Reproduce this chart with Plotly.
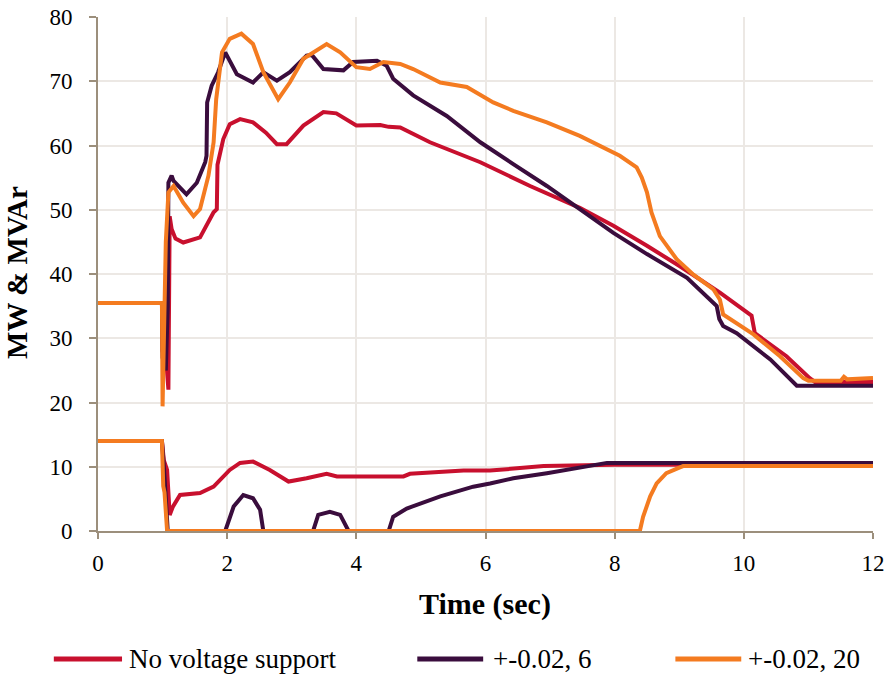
import plotly.graph_objects as go

# Active power (MW) traces
t_mw_none = [0, 0.99, 1.0, 1.06, 1.09, 1.10, 1.11, 1.14, 1.2, 1.32, 1.58, 1.79, 1.84, 1.85, 1.94, 2.04,
             2.2, 2.4, 2.6, 2.77, 2.92, 3.18, 3.49, 3.69, 4.0, 4.37, 4.5, 4.68, 5.14, 5.92, 6.69, 7.46,
             7.98, 8.5, 9.01, 9.63, 10.04, 10.12, 10.17, 10.66, 11.02, 11.1, 12]
mw_none = [35.5, 35.5, 28, 26, 22, 30, 49, 47, 45.5, 44.9, 45.7, 49.6, 50.1, 57, 61, 63.3,
           64.1, 63.6, 62, 60.2, 60.2, 63.1, 65.2, 65, 63.1, 63.2, 62.9, 62.8, 60.5, 57.4, 53.7, 50.3,
           47.5, 44.4, 41.2, 37.1, 34, 33.5, 30.8, 27.2, 23.8, 23.2, 23.2]

t_mw_6 = [0, 0.99, 1.0, 1.05, 1.08, 1.09, 1.14, 1.17, 1.37, 1.53, 1.66, 1.68, 1.69, 1.76, 1.86, 1.97,
          2.15, 2.4, 2.56, 2.77, 2.97, 3.23, 3.31, 3.49, 3.8, 3.95, 4.32, 4.47, 4.57, 4.88, 5.4, 5.92,
          6.43, 6.95, 7.46, 7.98, 8.5, 9.12, 9.58, 9.62, 9.68, 9.89, 10.41, 10.82, 12]
mw_6 = [35.5, 35.5, 27, 25, 35, 54.2, 55.3, 54.5, 52.4, 54.2, 57.4, 58.4, 66.7, 69.3, 71.4, 74.5,
        71.1, 69.8, 71.4, 70.1, 71.4, 74, 74.1, 71.9, 71.7, 73, 73.2, 72.4, 70.4, 67.8, 64.6, 60.5,
        57.1, 53.7, 50.1, 46.4, 43.1, 39.4, 35, 33, 31.9, 30.8, 26.7, 22.6, 22.6]

t_mw_20 = [0, 0.99, 1.0, 1.02, 1.03, 1.05, 1.09, 1.17, 1.32, 1.48, 1.58, 1.71, 1.79, 1.83, 1.92, 2.04,
           2.22, 2.4, 2.56, 2.79, 2.97, 3.18, 3.54, 3.75, 4.0, 4.21, 4.42, 4.68, 4.88, 5.3, 5.71, 6.12,
           6.43, 6.95, 7.46, 8.08, 8.34, 8.42, 8.5, 8.57, 8.7, 8.96, 9.22, 9.53, 9.63, 9.68, 10.15,
           10.56, 10.92, 11.0, 11.5, 11.55, 11.6, 12]
mw_20 = [35.5, 35.5, 19.4, 30, 40, 45, 52.7, 53.7, 51.1, 49, 50.1, 55.3, 60.5, 67.2, 74.5, 76.6,
         77.4, 75.8, 71.4, 67.2, 69.8, 73.5, 75.8, 74.5, 72.2, 71.9, 73, 72.7, 71.9, 69.8, 69.1, 66.7,
         65.4, 63.6, 61.5, 58.4, 56.6, 55, 52.7, 49.6, 45.9, 42.3, 39.9, 37.6, 36, 33.7, 30.6,
         27.2, 23.8, 23.4, 23.4, 24, 23.6, 23.8]

# Reactive power (MVAr) traces
t_mvar_none = [0, 0.99, 1.02, 1.05, 1.07, 1.11, 1.16, 1.27, 1.58, 1.79, 2.04, 2.2, 2.4, 2.66, 2.95,
               3.23, 3.54, 3.7, 4.73, 4.83, 5.66, 6.07, 6.28, 6.9, 7.98, 12]
mvar_none = [14, 14, 11, 10, 9.5, 2.5, 3.8, 5.6, 5.9, 6.9, 9.5, 10.6, 10.8, 9.5, 7.7,
             8.2, 8.9, 8.5, 8.5, 8.9, 9.4, 9.4, 9.6, 10.1, 10.3, 10.3]

t_mvar_6 = [0, 0.99, 1.02, 1.06, 1.08, 1.97, 2.1, 2.25, 2.4, 2.51, 2.56, 3.33, 3.41, 3.59, 3.75,
            3.88, 4.5, 4.57, 4.78, 5.3, 5.81, 6.07, 6.43, 6.95, 7.46, 7.88, 12]
mvar_6 = [14, 14, 10, 3, 0, 0, 3.8, 5.6, 5.1, 3.3, 0, 0, 2.5, 3.0, 2.5,
          0, 0, 2.2, 3.5, 5.4, 6.9, 7.4, 8.2, 9.0, 9.9, 10.6, 10.6]

t_mvar_20 = [0, 0.99, 1.01, 1.03, 1.07, 8.39, 8.44, 8.55, 8.65, 8.8, 9.01, 9.06, 12]
mvar_20 = [14, 14, 7, 6, 0, 0, 2.2, 5.4, 7.4, 9.0, 9.9, 10.1, 10.1]

series_names = ["No voltage support", "+-0.02, 6", "+-0.02, 20"]
series_colors = ["#c8102e", "#3a0d3d", "#f47b20"]

x_ticks = [0, 2, 4, 6, 8, 10, 12]
y_ticks = [0, 10, 20, 30, 40, 50, 60, 70, 80]

FONT = "Liberation Serif"
AXIS_COLOR = "#9c8f7c"
GRID_COLOR = "#ece8e4"

fig = go.Figure()

mw_sets = [(t_mw_none, mw_none), (t_mw_6, mw_6), (t_mw_20, mw_20)]
mvar_sets = [(t_mvar_none, mvar_none), (t_mvar_6, mvar_6), (t_mvar_20, mvar_20)]

for (tx, ty), name, color in zip(mw_sets, series_names, series_colors):
    fig.add_trace(go.Scatter(x=tx, y=ty, mode="lines", name=name + " MW",
                             line=dict(color=color, width=4), showlegend=False))
for (tx, ty), name, color in zip(mvar_sets, series_names, series_colors):
    fig.add_trace(go.Scatter(x=tx, y=ty, mode="lines", name=name + " MVAr",
                             line=dict(color=color, width=4), showlegend=False))

# Legend row drawn beneath the plot (paper coordinates of the plot area)
LEG_Y = -0.249
legend_items = [(-0.057, 0.031, 0.037), (0.412, 0.497, 0.507), (0.745, 0.830, 0.836)]
shapes = []
annotations = []
for (x0, x1, xt), name, color in zip(legend_items, series_names, series_colors):
    shapes.append(dict(type="line", xref="paper", yref="paper", x0=x0, x1=x1,
                       y0=LEG_Y, y1=LEG_Y, line=dict(color=color, width=5)))
    annotations.append(dict(xref="paper", yref="paper", x=xt, y=LEG_Y, text=name,
                            showarrow=False, xanchor="left", yanchor="middle",
                            font=dict(family=FONT, size=27, color="#000")))

# Axis titles
annotations.append(dict(xref="paper", yref="paper", x=0.4994, y=-0.142, text="<b>Time (sec)</b>",
                        showarrow=False, xanchor="center", yanchor="middle",
                        font=dict(family=FONT, size=30, color="#000")))
annotations.append(dict(xref="paper", yref="paper", x=-0.1045, y=0.502, text="<b>MW &amp; MVAr</b>",
                        showarrow=False, textangle=-90, xanchor="center", yanchor="middle",
                        font=dict(family=FONT, size=29, color="#000")))

fig.update_layout(
    width=888, height=675,
    margin=dict(l=98, r=15, t=17, b=144, autoexpand=False),
    paper_bgcolor="white", plot_bgcolor="white",
    font=dict(family=FONT, size=22, color="#000"),
    showlegend=False,
    shapes=shapes,
    annotations=annotations,
)
fig.update_xaxes(
    range=[0, 12], tickvals=x_ticks, ticktext=[str(v) for v in x_ticks],
    showgrid=True, gridcolor=GRID_COLOR, gridwidth=2,
    showline=True, linecolor=AXIS_COLOR, linewidth=2,
    ticks="outside", ticklen=6, tickcolor=AXIS_COLOR, tickwidth=2,
    zeroline=False, tickfont=dict(family=FONT, size=23), automargin=False,
    ticklabelstandoff=4,
)
fig.update_yaxes(
    range=[0, 80], tickvals=y_ticks, ticktext=[str(v) for v in y_ticks],
    showgrid=True, gridcolor=GRID_COLOR, gridwidth=2,
    showline=True, linecolor=AXIS_COLOR, linewidth=2,
    ticks="outside", ticklen=7, tickcolor=AXIS_COLOR, tickwidth=2,
    zeroline=False, tickfont=dict(family=FONT, size=23), automargin=False,
    ticklabelstandoff=12,
)

fig.write_html("out.html")
